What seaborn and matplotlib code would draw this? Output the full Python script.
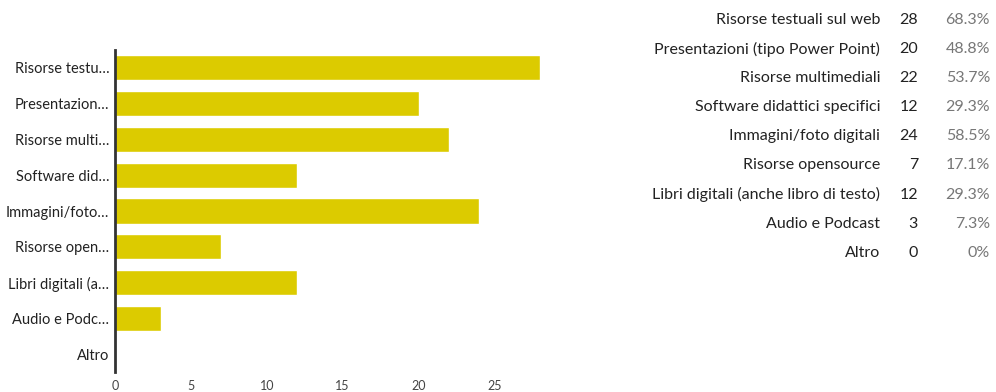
import seaborn as sns
import numpy as np
import pandas as pd
import matplotlib.pyplot as plt

sns.set_style('white')
plt.rcParams['font.family'] = ['Lato', 'DejaVu Sans']

categories = ['Risorse testuali sul web', 'Presentazioni (tipo Power Point)',
              'Risorse multimediali', 'Software didattici specifici',
              'Immagini/foto digitali', 'Risorse opensource',
              'Libri digitali (anche libro di testo)', 'Audio e Podcast', 'Altro']
counts = [28, 20, 22, 12, 24, 7, 12, 3, 0]
percents = ['68.3%', '48.8%', '53.7%', '29.3%', '58.5%', '17.1%', '29.3%', '7.3%', '0%']
short_labels = ['Risorse testu…', 'Presentazion…', 'Risorse multi…', 'Software did…',
                'Immagini/foto…', 'Risorse open…', 'Libri digitali (a…',
                'Audio e Podc…', 'Altro']
xticks = [0, 5, 10, 15, 20, 25]

df = pd.DataFrame({'cat': categories, 'n': counts})

fig = plt.figure(figsize=(9.96, 3.92), dpi=100)
ax = fig.add_axes([115 / 996, 20 / 392, (540 - 115) / 996, 322 / 392])

sns.barplot(data=df, y='cat', x='n', color='#dccb00', saturation=1, width=0.7, ax=ax)
ax.set_xlim(0, 28)
ax.set_ylim(8.5, -0.5)
ax.set_yticks(range(len(short_labels)))
ax.set_yticklabels(short_labels, fontsize=10.5, color='#222222')
ax.set_xticks(xticks)
ax.set_xticklabels([str(t) for t in xticks], fontsize=9, color='#444444')
ax.tick_params(axis='both', length=0, pad=4)
ax.tick_params(axis='x', pad=6)
ax.set_xlabel('')
ax.set_ylabel('')
for s in ['top', 'right', 'bottom']:
    ax.spines[s].set_visible(False)
ax.spines['left'].set_color('#333333')
ax.spines['left'].set_linewidth(2)

# right hand table
y0 = 20
for i, (c, n, p) in enumerate(zip(categories, counts, percents)):
    y = 1 - (y0 + i * 29.1) / 392
    fig.text(880 / 996, y, c, ha='right', va='center', fontsize=11.5, color='#222222')
    fig.text(918 / 996, y, str(n), ha='right', va='center', fontsize=11.5, color='#222222')
    fig.text(990 / 996, y, p, ha='right', va='center', fontsize=11.5, color='#777777')

plt.savefig('out.png', dpi=100)
